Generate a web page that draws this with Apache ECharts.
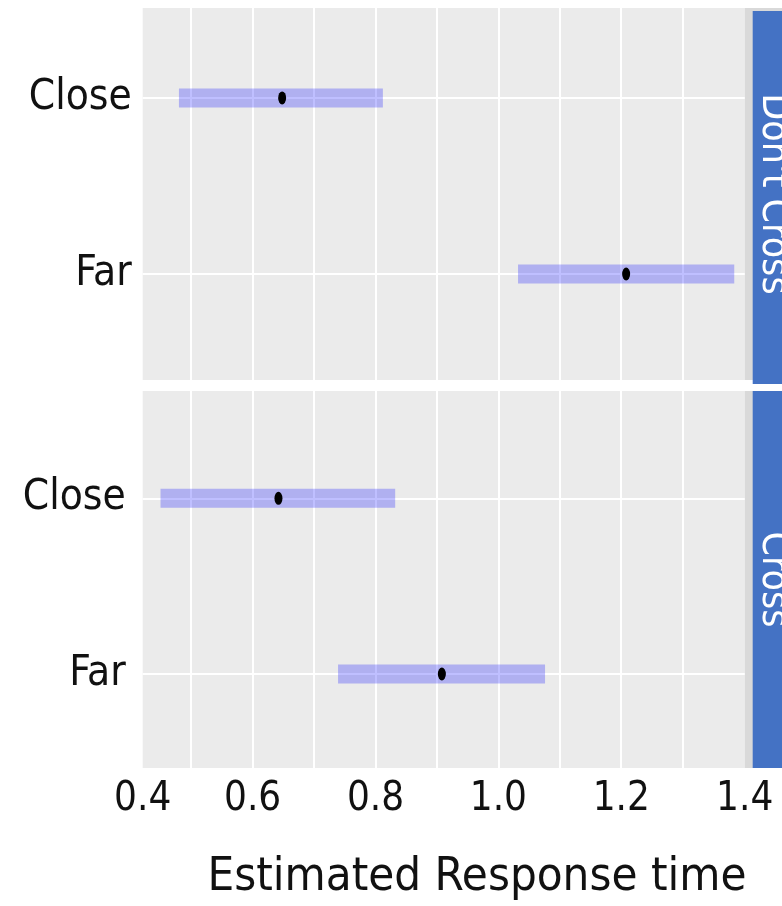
<!DOCTYPE html>
<html>
<head>
<meta charset="utf-8">
<title>Estimated Response time</title>
<script src="https://cdn.jsdelivr.net/npm/echarts@6/dist/echarts.min.js"></script>
<style>
  html, body { margin: 0; padding: 0; background: #ffffff; }
  #chart { width: 782px; height: 906px; }
</style>
</head>
<body>
<div id="chart"></div>
<script>
// Facet panels (top to bottom) and the categories inside each panel
const panels = ["Don't Cross", "Cross"];
const categories = ['Close', 'Far'];

// Interval estimates per panel: lower bound, point estimate, upper bound (per category)
const dontCrossLow  = [0.480, 1.032];
const dontCrossEst  = [0.648, 1.208];
const dontCrossHigh = [0.812, 1.384];

const crossLow  = [0.450, 0.739];
const crossEst  = [0.642, 0.908];
const crossHigh = [0.832, 1.076];

// x axis: gridlines every 0.1, labels every 0.2
const xGridValues = [0.5, 0.6, 0.7, 0.8, 0.9, 1.0, 1.1, 1.2, 1.3];
const xLabelValues = [0.6, 0.8, 1.0, 1.2];
const xMin = 0.421;
const xMax = 1.401;

const FONT = "'DejaVu Sans Condensed', 'Liberation Sans Narrow', 'Liberation Sans', sans-serif";
const PANEL_BG = '#ebebeb';
const STRIP_BLUE = '#4472c4';
const STRIP_GREY = '#d9d9d9';

// y position of each category: first category on top
const catPos = categories.map((c, i) => categories.length - i);

const panelData = [
  { low: dontCrossLow, est: dontCrossEst, high: dontCrossHigh, yMin: 0.398, yMax: 2.511 },
  { low: crossLow, est: crossEst, high: crossHigh, yMin: 0.465, yMax: 2.611 }
];

const gridBoxes = [
  { left: 142.7, top: 8, width: 602, height: 372, labelMargin: 11 },
  { left: 142.7, top: 391, width: 602, height: 377, labelMargin: 17 }
];

const chart = echarts.init(document.getElementById('chart'), null, { renderer: 'canvas' });

const grids = gridBoxes.map(b => ({
  left: b.left, top: b.top, width: b.width, height: b.height,
  show: true, backgroundColor: PANEL_BG, borderWidth: 0, containLabel: false
}));

const xAxes = gridBoxes.map((b, i) => ({
  type: 'value',
  gridIndex: i,
  min: xMin,
  max: xMax,
  axisLine: { show: false },
  axisTick: { show: false, customValues: xGridValues },
  splitLine: { show: true, lineStyle: { color: '#ffffff', width: 2 } },
  axisLabel: {
    show: i === gridBoxes.length - 1,
    customValues: [xMin].concat(xLabelValues, [xMax]),
    formatter: v => v.toFixed(1),
    fontFamily: FONT,
    fontSize: 40,
    color: '#111111',
    margin: 12
  }
}));

const yAxes = panelData.map((p, i) => ({
  type: 'value',
  gridIndex: i,
  min: p.yMin,
  max: p.yMax,
  axisLine: { show: false },
  axisTick: { show: false, customValues: catPos },
  splitLine: { show: true, lineStyle: { color: '#ffffff', width: 2 } },
  axisLabel: {
    customValues: catPos,
    formatter: v => categories[categories.length - Math.round(v)],
    fontFamily: FONT,
    fontSize: 42,
    color: '#111111',
    margin: gridBoxes[i].labelMargin
  }
}));

const series = [];
panelData.forEach((p, i) => {
  series.push({
    type: 'custom',
    xAxisIndex: i,
    yAxisIndex: i,
    silent: true,
    encode: { x: [0, 1], y: 2 },
    data: categories.map((c, k) => [p.low[k], p.high[k], catPos[k]]),
    renderItem: (params, api) => {
      const a = api.coord([api.value(0), api.value(2)]);
      const b = api.coord([api.value(1), api.value(2)]);
      const h = 19;
      return {
        type: 'rect',
        shape: { x: a[0], y: a[1] - h / 2, width: b[0] - a[0], height: h },
        style: { fill: 'rgba(0, 0, 255, 0.25)' }
      };
    },
    z: 2
  });
  series.push({
    type: 'scatter',
    xAxisIndex: i,
    yAxisIndex: i,
    silent: true,
    symbol: 'circle',
    symbolSize: [8, 13],
    itemStyle: { color: '#000000', opacity: 1 },
    data: categories.map((c, k) => [p.est[k], catPos[k]]),
    z: 3
  });
});

// Facet strips on the right side of each panel
const stripGraphics = [];
gridBoxes.forEach((b, i) => {
  const right = b.left + b.width;
  stripGraphics.push({
    type: 'rect', z: 0,
    shape: { x: right, y: b.top, width: 60, height: b.height },
    style: { fill: STRIP_GREY }
  });
  stripGraphics.push({
    type: 'rect', z: 1,
    shape: { x: right + 8, y: i === 0 ? b.top + 3 : b.top, width: 60, height: i === 0 ? b.height + 1 : b.height },
    style: { fill: STRIP_BLUE }
  });
  stripGraphics.push({
    type: 'text', z: 2,
    x: right + 9,
    y: b.top + b.height / 2,
    rotation: -Math.PI / 2,
    style: {
      text: panels[i],
      fill: '#ffffff',
      font: '39px ' + FONT,
      align: 'center',
      verticalAlign: 'bottom'
    }
  });
});

chart.setOption({
  animation: false,
  backgroundColor: '#ffffff',
  title: {
    text: 'Estimated Response time',
    left: 472,
    top: 849,
    textAlign: 'center',
    textStyle: { fontFamily: FONT, fontSize: 47, fontWeight: 'normal', color: '#111111' }
  },
  grid: grids,
  xAxis: xAxes,
  yAxis: yAxes,
  series: series,
  graphic: stripGraphics
});
</script>
</body>
</html>
